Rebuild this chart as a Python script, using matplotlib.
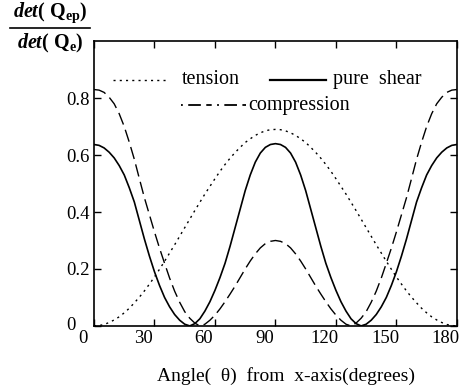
import matplotlib
matplotlib.use("Agg")
import matplotlib.pyplot as plt
import matplotlib.transforms as mtransforms
from matplotlib.lines import Line2D

plt.rcParams['font.family'] = ['Liberation Serif', 'DejaVu Serif']
plt.rcParams['mathtext.fontset'] = 'custom'
plt.rcParams['mathtext.rm'] = 'Liberation Serif:bold'
plt.rcParams['mathtext.it'] = 'Liberation Serif:italic:bold'

# angle (deg) - half range, mirrored about 90
angle_half = [0, 2.5, 5, 7.5, 10, 12.5, 15, 17.5, 20, 22.5, 25, 27.5, 30, 32.5, 35, 37.5,
              40, 42.5, 45, 47.5, 50, 52.5, 55, 57.5, 60, 62.5, 65, 67.5, 70, 72.5, 75,
              77.5, 80, 82.5, 85, 87.5, 90]
tension_half = [0.0, 0.0013, 0.005, 0.012, 0.021, 0.032, 0.046, 0.062, 0.081, 0.101, 0.123,
                0.147, 0.172, 0.199, 0.227, 0.256, 0.285, 0.315, 0.345, 0.375, 0.405, 0.434,
                0.463, 0.49, 0.517, 0.543, 0.567, 0.589, 0.609, 0.627, 0.644, 0.657, 0.669,
                0.678, 0.685, 0.689, 0.69]
shear_half = [0.637, 0.634, 0.625, 0.61, 0.59, 0.563, 0.53, 0.485, 0.435, 0.37, 0.305,
              0.245, 0.19, 0.142, 0.10, 0.067, 0.04, 0.02, 0.006, 0.0, 0.008, 0.025, 0.052,
              0.085, 0.125, 0.17, 0.22, 0.28, 0.345, 0.41, 0.475, 0.53, 0.575, 0.607, 0.627,
              0.637, 0.64]
compr_half = [0.83, 0.828, 0.82, 0.803, 0.78, 0.745, 0.70, 0.645, 0.585, 0.517, 0.45,
              0.39, 0.33, 0.273, 0.22, 0.168, 0.122, 0.083, 0.05, 0.027, 0.01, 0.0, 0.006,
              0.02, 0.038, 0.06, 0.085, 0.112, 0.14, 0.17, 0.20, 0.228, 0.253, 0.274, 0.289,
              0.297, 0.30]

angle = angle_half + [180 - a for a in angle_half[-2::-1]]
tension = tension_half + tension_half[-2::-1]
shear = shear_half + shear_half[-2::-1]
compression = compr_half + compr_half[-2::-1]

xticks = [0, 30, 60, 90, 120, 150, 180]
yticks = [0, 0.2, 0.4, 0.6, 0.8]
yticklabels = ['0', '0.2', '0.4', '0.6', '0.8']

fig = plt.figure(figsize=(4.71, 3.88), dpi=100)
ax = fig.add_axes([0.1996, 0.160, 0.7704, 0.734])

ax.plot(angle, tension, color='black', lw=1.0, linestyle=(0, (1.5, 3)))
ax.plot(angle, shear, color='black', lw=1.2, linestyle='-')
ax.plot(angle, compression, color='black', lw=1.0, linestyle=(0, (9, 4)))

ax.set_xlim(0, 180)
ax.set_ylim(0, 1.0)
ax.set_xticks(xticks)
ax.set_yticks(yticks)
ax.set_yticklabels(yticklabels)
ax.tick_params(direction='in', top=True, right=True, length=5, width=1,
               labelsize=13.5, pad=3)
for s in ax.spines.values():
    s.set_linewidth(1.2)

# x tick labels sit a bit left of their ticks
offset = mtransforms.ScaledTranslation(-8 / 72, 0, fig.dpi_scale_trans)
for lab in ax.get_xticklabels():
    lab.set_transform(lab.get_transform() + offset)
ylabs = ax.get_yticklabels()
ylabs[0].set_transform(ylabs[0].get_transform() +
                       mtransforms.ScaledTranslation(-10 / 72, 2 / 72, fig.dpi_scale_trans))

ax.set_xlabel('Angle(  θ)  from  x-axis(degrees)', fontsize=14)
ax.xaxis.set_label_coords(0.529, -0.145)

# legend drawn by hand (no frame)
ax.add_line(Line2D([0.052, 0.20], [0.865, 0.865], transform=ax.transAxes,
                   color='black', lw=1.0, linestyle=(0, (1.5, 3))))
ax.text(0.243, 0.865, 'tension', transform=ax.transAxes, fontsize=14.5, va='center')
ax.add_line(Line2D([0.485, 0.64], [0.865, 0.865], transform=ax.transAxes,
                   color='black', lw=1.6))
ax.text(0.66, 0.865, 'pure  shear', transform=ax.transAxes, fontsize=14.5, va='center')
ax.add_line(Line2D([0.24, 0.42], [0.775, 0.775], transform=ax.transAxes,
                   color='black', lw=1.3, linestyle=(0, (1, 3, 7, 3, 3, 3))))
ax.text(0.424, 0.775, 'compression', transform=ax.transAxes, fontsize=14.5, va='center')

# y label as a fraction in the top-left corner
fig.text(0.106, 0.966, r'$det$( Q$_{\mathrm{ep}}$)', fontsize=14.5, fontweight='bold',
         ha='center', va='center')
fig.add_artist(Line2D([0.021, 0.191], [0.928, 0.928], transform=fig.transFigure,
                      color='black', lw=1.2))
fig.text(0.106, 0.888, r'$det$( Q$_{\mathrm{e}}$)', fontsize=14.5, fontweight='bold',
         ha='center', va='center')

fig.savefig('out.png', dpi=100)
